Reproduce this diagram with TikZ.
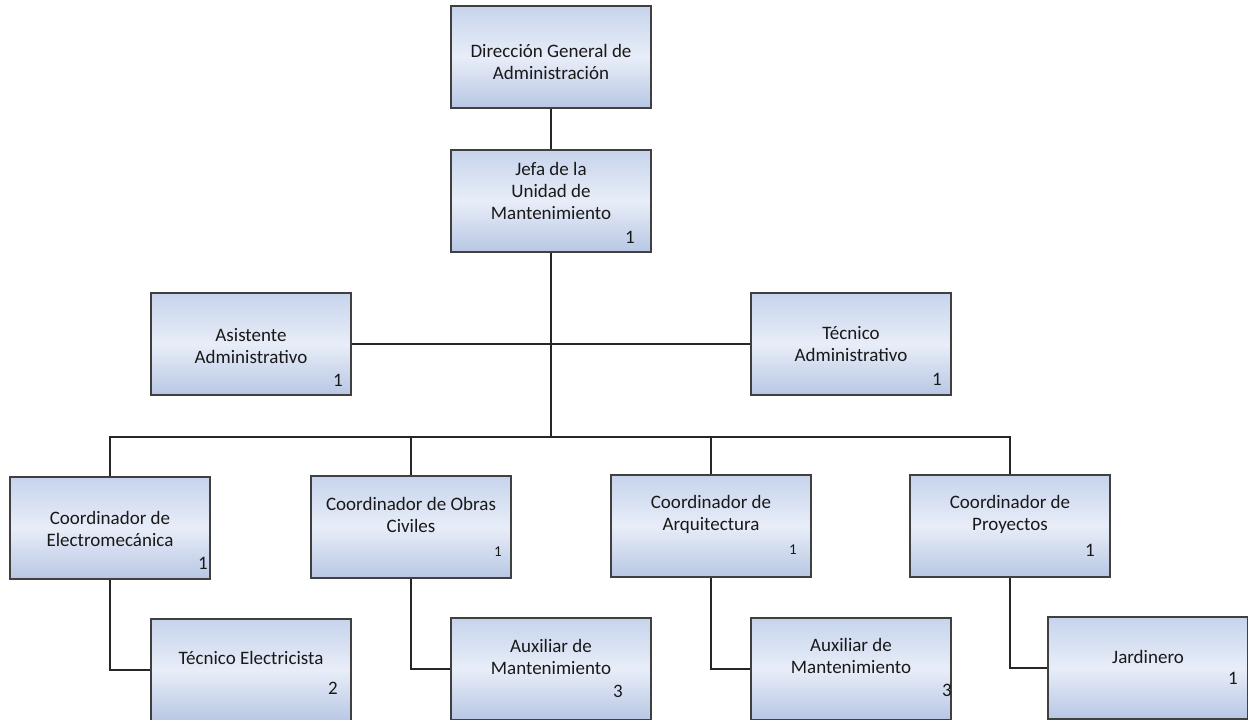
\documentclass[tikz,border=0pt]{standalone}
\usepackage{fontspec}
\setmainfont{Carlito}
\definecolor{cajaA}{RGB}{198,212,236}
\definecolor{cajaB}{RGB}{232,237,248}
\definecolor{cajaC}{RGB}{184,199,228}
\tikzset{
  caja/.style={draw=black!75, line width=1.5pt, minimum width=200pt, minimum height=102pt,
    inner sep=0pt, top color=cajaA, bottom color=cajaC, middle color=cajaB},
  texto/.style={align=center, inner sep=0pt, text=black!90, font=\fontsize{19}{22}\selectfont},
  numero/.style={inner sep=0pt, text=black!90, font=\fontsize{19}{22}\selectfont},
  chico/.style={font=\fontsize{15}{16}\selectfont},
  linea/.style={draw=black!85, line width=1.5pt}
}
\begin{document}
\begin{tikzpicture}[x=1pt, y=-1pt]
            \useasboundingbox (0,0) rectangle (1248,720);
            % cajas
            \node[caja] (direccion) at (551,57) {};
            \node[caja] (jefa) at (551,201) {};
            \node[caja] (asistente) at (251,344) {};
            \node[caja] (tecadmin) at (851,344) {};
            \node[caja] (electromec) at (110,528) {};
            \node[caja] (obras) at (411,527) {};
            \node[caja] (arq) at (711,526) {};
            \node[caja] (proy) at (1010,526) {};
            \node[caja] (electricista) at (251,670) {};
            \node[caja] (aux1) at (551,669) {};
            \node[caja] (aux2) at (851,669) {};
            \node[caja] (jardinero) at (1148,668) {};
            % lineas
            \coordinate (bus) at (551,437);
            \draw[linea] (direccion.south) -- (jefa.north);
            \draw[linea] (jefa.south) -- (bus);
            \draw[linea] (asistente.east) -- (tecadmin.west);
            \draw[linea] (electromec.north) |- (bus) -| (proy.north);
            \draw[linea] (obras.north) |- (bus);
            \draw[linea] (arq.north) |- (bus);
            \draw[linea] (electromec.south) |- (electricista.west);
            \draw[linea] (obras.south) |- (aux1.west);
            \draw[linea] (arq.south) |- (aux2.west);
            \draw[linea] (proy.south) |- (jardinero.west);
            % textos
            \node[texto] (direccion-t) at (551,62) {Dirección General de\\Administración};
            \node[texto] (jefa-t) at (551,191) {Jefa de la\\Unidad de\\Mantenimiento};
            \node[texto] (asistente-t) at (251,346) {Asistente\\Administrativo};
            \node[texto] (tecadmin-t) at (851,344) {Técnico\\Administrativo};
            \node[texto] (electromec-t) at (110,529) {Coordinador de\\Electromecánica};
            \node[texto] (obras-t) at (411,515) {Coordinador de Obras\\Civiles};
            \node[texto] (arq-t) at (711,514) {Coordinador de\\Arquitectura};
            \node[texto] (proy-t) at (1010,514) {Coordinador de\\Proyectos};
            \node[texto] (electricista-t) at (251,658) {Técnico Electricista};
            \node[texto] (aux1-t) at (551,657) {Auxiliar de\\Mantenimiento};
            \node[texto] (aux2-t) at (851,656) {Auxiliar de\\Mantenimiento};
            \node[texto] (jardinero-t) at (1148,657) {Jardinero};
            % plazas
            \node[numero] (jefa-n) at (630,237) {1};
            \node[numero] (asistente-n) at (338,380) {1};
            \node[numero] (tecadmin-n) at (937,379) {1};
            \node[numero] (electromec-n) at (203,563) {1};
            \node[numero, chico] (obras-n) at (498,552) {1};
            \node[numero, chico] (arq-n) at (793,550) {1};
            \node[numero] (proy-n) at (1090,550) {1};
            \node[numero] (electricista-n) at (333,688) {2};
            \node[numero] (aux1-n) at (618,691) {3};
            \node[numero] (aux2-n) at (947,690) {3};
            \node[numero] (jardinero-n) at (1233,678) {1};
        \end{tikzpicture}
\end{document}
